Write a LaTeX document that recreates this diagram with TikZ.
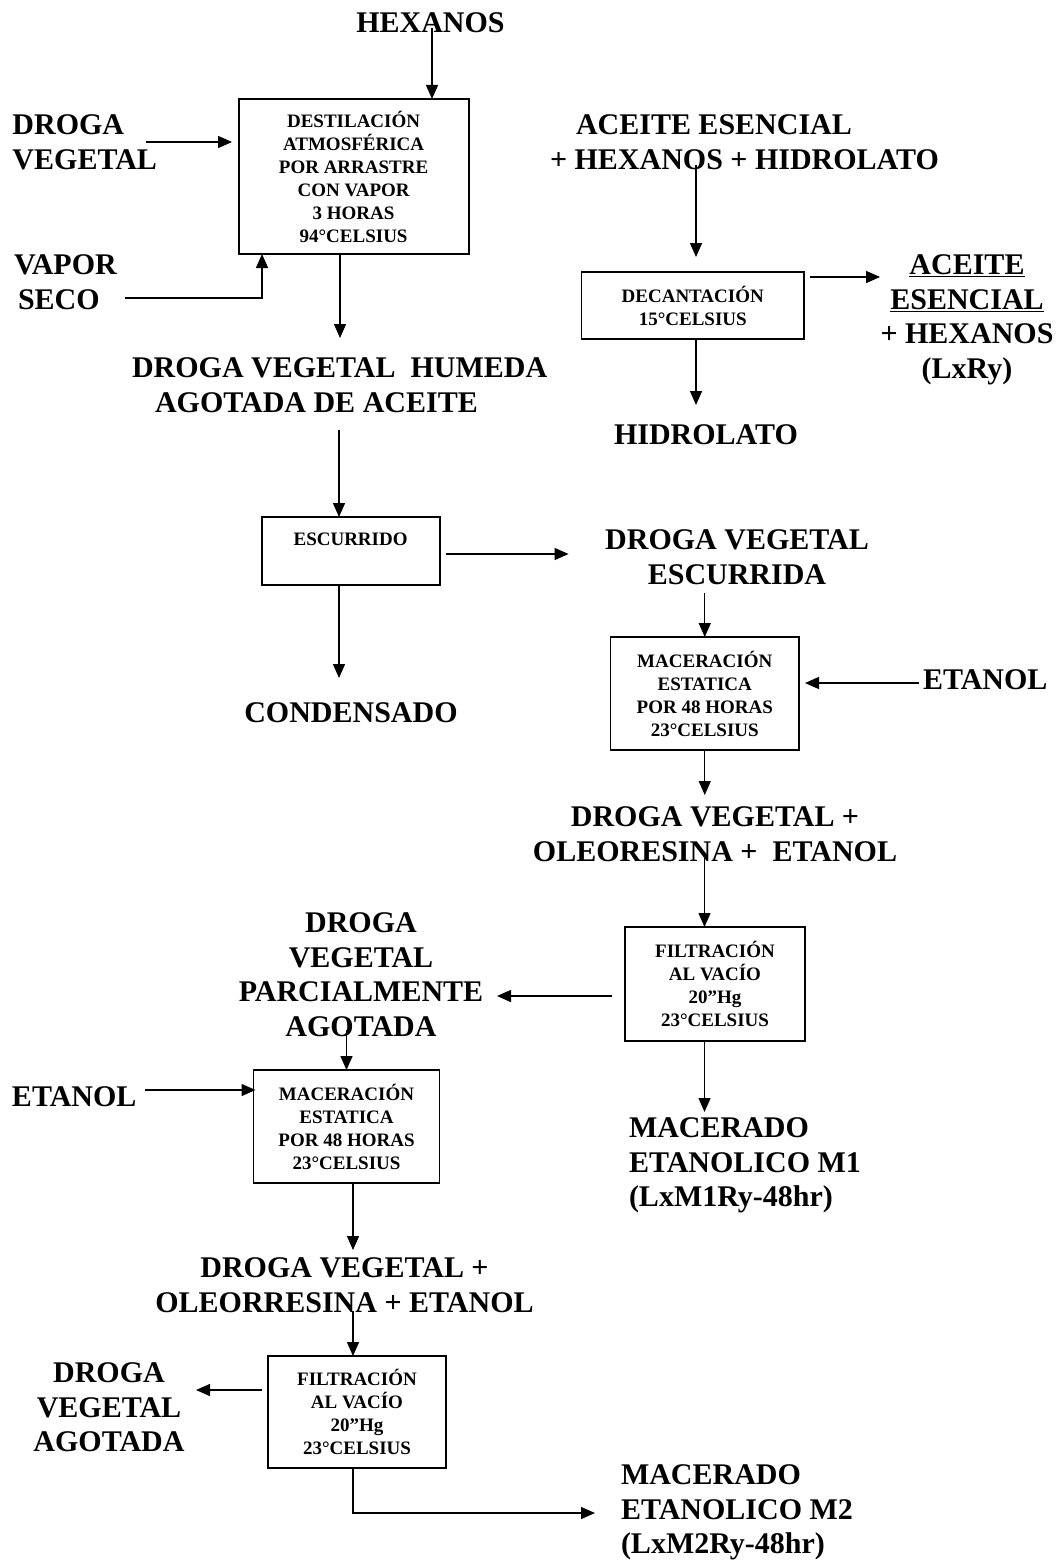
\documentclass[tikz,border=0pt]{standalone}
\usepackage{fontspec}
\setmainfont{Liberation Serif}
\usetikzlibrary{arrows.meta}
\begin{document}
\begin{tikzpicture}[x=1pt,y=-1pt,
  lbl/.style={font=\fontsize{30}{34.5}\selectfont\bfseries, inner sep=0pt, outer sep=0pt},
  procbox/.style={draw, line width=1.8pt, inner sep=0pt, outer sep=0pt, align=center,
     font=\fontsize{19}{23}\selectfont\bfseries},
  arr/.style={line width=1.4pt, -{Triangle[length=14pt,width=12pt]}},
  ln/.style={line width=1.4pt}]
\useasboundingbox[fill=white] (0,0) rectangle (1060,1560);

% ---------- process boxes ----------
\node[procbox, minimum width=230pt, minimum height=155pt] (dest) at (353.6,176.5)
  {DESTILACIÓN\\ATMOSFÉRICA\\POR ARRASTRE\\CON VAPOR\\3 HORAS\\94°CELSIUS};
\node[procbox, minimum width=222.5pt, minimum height=67pt] (dec) at (692.75,305.5)
  {DECANTACIÓN\\15°CELSIUS};
\node[procbox, minimum width=178pt, minimum height=68pt] (esc) at (350.6,551)
  {ESCURRIDO\\\mbox{}};
\node[procbox, minimum width=188.5pt, minimum height=113pt] (mac1) at (704.75,693.5)
  {MACERACIÓN\\ESTATICA\\POR 48 HORAS\\23°CELSIUS};
\node[procbox, minimum width=180pt, minimum height=114pt] (filt1) at (715,984)
  {FILTRACIÓN\\AL VACÍO\\20”Hg\\23°CELSIUS};
\node[procbox, minimum width=186pt, minimum height=113pt] (mac2) at (346.5,1126.5)
  {MACERACIÓN\\ESTATICA\\POR 48 HORAS\\23°CELSIUS};
\node[procbox, minimum width=178pt, minimum height=112pt] (filt2) at (357,1412)
  {FILTRACIÓN\\AL VACÍO\\20”Hg\\23°CELSIUS};

% ---------- labels ----------
\node[lbl, anchor=north] (hex) at (430.5,13) {HEXANOS};
\node[lbl, anchor=north west, align=left] (dv) at (12.5,115) {DROGA\\VEGETAL};
\node[lbl, anchor=north west, align=left] (vs) at (14,255) {VAPOR\\\hspace*{4pt}SECO};
\node[lbl, anchor=north west, align=left] (dvh) at (132,358)
  {DROGA VEGETAL\ \ HUMEDA\\\hspace*{23pt}AGOTADA DE ACEITE};
\node[lbl, anchor=north west, align=left] (aeh) at (550,115)
  {\hspace*{26pt}ACEITE ESENCIAL\\+ HEXANOS + HIDROLATO};
\node[lbl, anchor=north, align=center] (aer) at (967,255)
  {\underline{ACEITE}\\\underline{ESENCIAL}\\+ HEXANOS\\(LxRy)};
\node[lbl, anchor=north] (hid) at (706,425) {HIDROLATO};
\node[lbl, anchor=north, align=center] (dve) at (737,530) {DROGA VEGETAL\\ESCURRIDA};
\node[lbl, anchor=north] (cond) at (351,703) {CONDENSADO};
\node[lbl, anchor=north west] (et1) at (923,670) {ETANOL};
\node[lbl, anchor=north, align=center] (dvo1) at (715,807)
  {DROGA VEGETAL +\\OLEORESINA +\ \ ETANOL};
\node[lbl, anchor=north, align=center] (dvpa) at (361,913)
  {DROGA\\VEGETAL\\PARCIALMENTE\\AGOTADA};
\node[lbl, anchor=north west] (et2) at (12,1087) {ETANOL};
\node[lbl, anchor=north west, align=left] (m1) at (629,1118)
  {MACERADO\\ETANOLICO M1\\(LxM1Ry-48hr)};
\node[lbl, anchor=north, align=center] (dvo2) at (344.5,1258)
  {DROGA VEGETAL +\\OLEORRESINA + ETANOL};
\node[lbl, anchor=north, align=center] (dva) at (109,1363)
  {DROGA\\VEGETAL\\AGOTADA};
\node[lbl, anchor=north west, align=left] (m2) at (621,1465)
  {MACERADO\\ETANOLICO M2\\(LxM2Ry-48hr)};

% ---------- connectors ----------
\draw[arr] ([xshift=1.5pt,yshift=5pt]hex.south) -- ([xshift=1.5pt]hex.south |- dest.north);
\coordinate (dvA) at (146,142);
\draw[arr, shorten >=6.6pt] (dvA) -- (dvA -| dest.west);
\coordinate (vsA) at (125,298);
\draw[arr] (vsA) -| ([xshift=23.4pt]dest.south west);
\draw[arr] ([xshift=-13.6pt]dest.south) -- ++(0,84);

\draw[arr] ([xshift=3.25pt,yshift=107pt]dec.north) -- ([xshift=3.25pt,yshift=15pt]dec.north);
\draw[arr] ([xshift=6pt,yshift=-5pt]dec.north east) -- ++(70,0);
\draw[arr] ([xshift=3.25pt]dec.south) -- ++(0,66);

\draw[arr] ([xshift=-11.6pt,yshift=87pt]esc.north) -- ([xshift=-11.6pt]esc.north);
\draw[arr] ([xshift=6.5pt,yshift=-3pt]esc.east) -- ++(122.5,0);
\draw[arr] ([xshift=-11.6pt]esc.south) -- ++(0,93);

\draw[arr] ([yshift=44pt]mac1.north) -- (mac1.north);
\draw[arr] ([xshift=120pt,yshift=10.5pt]mac1.east) -- ([xshift=6pt,yshift=10.5pt]mac1.east);
\draw[arr] (mac1.south) -- ++(0,45);

\draw[arr] ([xshift=-10.5pt,yshift=72pt]filt1.north) -- ([xshift=-10.5pt]filt1.north);
\draw[arr] ([xshift=-13pt,yshift=-12pt]filt1.west) -- ++(-115,0);
\draw[arr] ([xshift=-10.5pt]filt1.south) -- ++(0,71);

\draw[arr] ([yshift=40pt]mac2.north) -- (mac2.north);
\draw[arr] ([xshift=-108.5pt,yshift=36.5pt]mac2.west) -- ([xshift=2pt,yshift=36.5pt]mac2.west);
\draw[arr] ([xshift=6.5pt]mac2.south) -- ++(0,67);

\draw[arr] ([xshift=-4pt,yshift=45pt]filt2.north) -- ([xshift=-4pt]filt2.north);
\draw[arr] ([xshift=-6pt,yshift=22pt]filt2.west) -- ++(-66,0);
\draw[arr] ([xshift=-4pt]filt2.south) |- ++(242,45);
\end{tikzpicture}
\end{document}
